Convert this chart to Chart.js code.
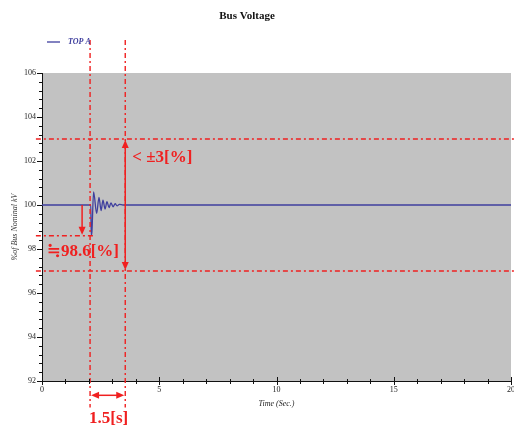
<!DOCTYPE html>
<html>
<head>
<meta charset="utf-8">
<title>Bus Voltage</title>
<script src="https://cdn.jsdelivr.net/npm/chart.js@4.4.1/dist/chart.umd.min.js"></script>
<style>
  html, body { margin:0; padding:0; background:#fff; }
  #wrap { width:514px; height:430px; position:relative; }
</style>
</head>
<body>
<div id="wrap"><canvas id="chart"></canvas></div>
<script>
// ── Data ─────────────────────────────────────────────────────────────────────
const timeSec    = [0, 2.08, 2.10, 2.13, 2.20, 2.33, 2.43, 2.52, 2.60, 2.69, 2.77, 2.86, 2.94, 3.03, 3.12, 3.20, 3.30, 3.45, 20];
const busVoltage = [100, 100, 98.62, 98.8, 100.6, 99.62, 100.35, 99.75, 100.22, 99.82, 100.15, 99.88, 100.1, 99.92, 100.06, 99.96, 100.03, 100, 100];
const yTickLabels = [92, 94, 96, 98, 100, 102, 104, 106];
const xTickLabels = [0, 5, 10, 15, 20];

// annotation values (data units)
const limitUpper = 103, limitLower = 97, dipValue = 98.6;
const eventStart = 2.05, eventEnd = 3.55;

const RED  = 'rgb(240,32,32)';
const BLUE = '#3f3f9e';
const SERIF = '"Liberation Serif", "DejaVu Serif", serif';

// ── helpers ──────────────────────────────────────────────────────────────────
function arrowHead(ctx, x, y, dir) {
  // dir: 'up' | 'down' | 'left' | 'right', (x,y) = tip
  const L = 8, W = 3.5;
  ctx.beginPath();
  ctx.moveTo(x, y);
  if (dir === 'up')    { ctx.lineTo(x-W, y+L); ctx.lineTo(x+W, y+L); }
  if (dir === 'down')  { ctx.lineTo(x-W, y-L); ctx.lineTo(x+W, y-L); }
  if (dir === 'left')  { ctx.lineTo(x+L, y-W); ctx.lineTo(x+L, y+W); }
  if (dir === 'right') { ctx.lineTo(x-L, y-W); ctx.lineTo(x-L, y+W); }
  ctx.closePath(); ctx.fill();
}

function line(ctx, x1, y1, x2, y2) {
  ctx.beginPath(); ctx.moveTo(x1, y1); ctx.lineTo(x2, y2); ctx.stroke();
}

// ── plugins ──────────────────────────────────────────────────────────────────
const plotBg = {
  id: 'plotBg',
  beforeDraw(chart) {
    const {ctx, chartArea: a} = chart;
    ctx.save();
    ctx.fillStyle = '#c2c2c2';
    ctx.fillRect(a.left, a.top, a.right - a.left, a.bottom - a.top);
    ctx.restore();
  }
};

const tickMarks = {
  id: 'tickMarks',
  afterDraw(chart) {
    const {ctx, chartArea: a} = chart;
    const xs = chart.scales.x, ys = chart.scales.y;
    ctx.save();
    ctx.strokeStyle = '#111'; ctx.lineWidth = 1;
    for (let i = 0; i <= 35; i++) {
      const py = Math.round(ys.getPixelForValue(92 + i * 0.4)) + 0.5;
      const len = i % 5 === 0 ? 5 : 3;
      line(ctx, a.left - len, py, a.left, py);
    }
    for (let t = 0; t <= 20; t++) {
      const px = Math.round(xs.getPixelForValue(t)) + 0.5;
      if (t % 5 === 0) line(ctx, px, a.bottom - 4, px, a.bottom + 4);
      else line(ctx, px, a.bottom - 2, px, a.bottom + 3);
    }
    ctx.restore();
  }
};

const headerText = {
  id: 'headerText',
  afterDraw(chart) {
    const {ctx} = chart;
    ctx.save();
    ctx.fillStyle = '#111';
    ctx.font = 'bold 11px ' + SERIF;
    ctx.textAlign = 'center'; ctx.textBaseline = 'middle';
    ctx.fillText('Bus Voltage', 247, 16);
    // legend
    ctx.strokeStyle = BLUE; ctx.lineWidth = 1.3;
    line(ctx, 47, 42, 60, 42);
    ctx.fillStyle = BLUE;
    ctx.font = 'italic bold 8px ' + SERIF;
    ctx.textAlign = 'left';
    ctx.fillText('TOP A', 68, 42);
    ctx.restore();
  }
};

const annotations = {
  id: 'annotations',
  afterDatasetsDraw(chart) {
    const {ctx} = chart;
    const xs = chart.scales.x, ys = chart.scales.y;
    const X = v => xs.getPixelForValue(v), Y = v => ys.getPixelForValue(v);
    ctx.save();
    ctx.strokeStyle = RED; ctx.fillStyle = RED; ctx.lineWidth = 1.4;
    ctx.setLineDash([5, 3, 2, 3]);
    // horizontal limits
    line(ctx, X(-0.26), Y(limitUpper), X(20.2), Y(limitUpper));
    line(ctx, X(-0.26), Y(limitLower), X(20.2), Y(limitLower));
    line(ctx, X(-0.26), Y(dipValue), X(eventStart + 0.25), Y(dipValue));
    // vertical event markers
    line(ctx, X(eventStart), Y(107.5), X(eventStart), Y(90.8));
    line(ctx, X(eventEnd), Y(107.5), X(eventEnd), Y(90.8));
    ctx.setLineDash([]);
    ctx.lineWidth = 1.5;
    // dip arrow
    const dx = X(1.71);
    line(ctx, dx, Y(100), dx, Y(dipValue) - 6);
    arrowHead(ctx, dx, Y(dipValue) - 1, 'down');
    // ±3 % double arrow
    const ex = X(eventEnd);
    line(ctx, ex, Y(limitUpper) + 6, ex, Y(limitLower) - 6);
    arrowHead(ctx, ex, Y(limitUpper) + 1, 'up');
    arrowHead(ctx, ex, Y(limitLower) - 1, 'down');
    // 1.5 s double arrow
    const ay = Y(91.35);
    line(ctx, X(eventStart) + 6, ay, X(eventEnd) - 6, ay);
    arrowHead(ctx, X(eventStart) + 1, ay, 'left');
    arrowHead(ctx, X(eventEnd) - 1, ay, 'right');
    // labels
    ctx.font = 'bold 17px ' + SERIF;
    ctx.textBaseline = 'middle'; ctx.textAlign = 'left';
    ctx.fillText('< \u00b13[%]', ex + 7, Y(102.15));
    ctx.font = 'bold 17px "DejaVu Serif", serif';
    const eqW = ctx.measureText('\u2252').width;
    ctx.fillText('\u2252', X(0.2), Y(97.9));
    ctx.font = 'bold 17px ' + SERIF;
    ctx.fillText('98.6[%]', X(0.2) + eqW, Y(97.9));
    ctx.textAlign = 'center';
    ctx.fillText('1.5[s]', (X(eventStart) + X(eventEnd)) / 2 + 1, ay + 23);
    ctx.restore();
  }
};

// ── chart ────────────────────────────────────────────────────────────────────
new Chart(document.getElementById('chart'), {
  type: 'line',
  data: {
    datasets: [{
      label: 'TOP A',
      data: timeSec.map((t, i) => ({x: t, y: busVoltage[i]})),
      borderColor: BLUE, borderWidth: 1.3,
      pointRadius: 0, cubicInterpolationMode: 'monotone', fill: false
    }]
  },
  options: {
    responsive: true, maintainAspectRatio: false, animation: false,
    layout: {padding: {top: 73, right: 3, left: 0, bottom: 0}},
    plugins: {legend: {display: false}, title: {display: false}, tooltip: {enabled: false}},
    scales: {
      x: {
        type: 'linear', min: 0, max: 20,
        afterBuildTicks: s => { s.ticks = xTickLabels.map(v => ({value: v})); },
        afterFit: s => { s.height = 49; s.paddingLeft = 0; s.paddingRight = 0; },
        grid: {display: false, drawTicks: false},
        border: {display: true, color: '#111', width: 1},
        ticks: {padding: 4, color: '#222', font: {family: SERIF, size: 8}, maxRotation: 0, autoSkip: false},
        title: {display: true, text: 'Time (Sec.)', color: '#222', padding: {bottom: 21},
                font: {family: SERIF, size: 8, style: 'italic'}}
      },
      y: {
        type: 'linear', min: 92, max: 106,
        afterBuildTicks: s => { s.ticks = yTickLabels.map(v => ({value: v})); },
        afterFit: s => { s.width = 42; },
        grid: {display: false, drawTicks: false},
        border: {display: true, color: '#111', width: 1},
        ticks: {padding: 6, color: '#222', font: {family: SERIF, size: 8}, autoSkip: false},
        title: {display: true, text: '%of Bus Nominal kV', color: '#333', padding: {top: 10},
                font: {family: SERIF, size: 8, style: 'italic'}}
      }
    }
  },
  plugins: [plotBg, tickMarks, headerText, annotations]
});
</script>
</body>
</html>
